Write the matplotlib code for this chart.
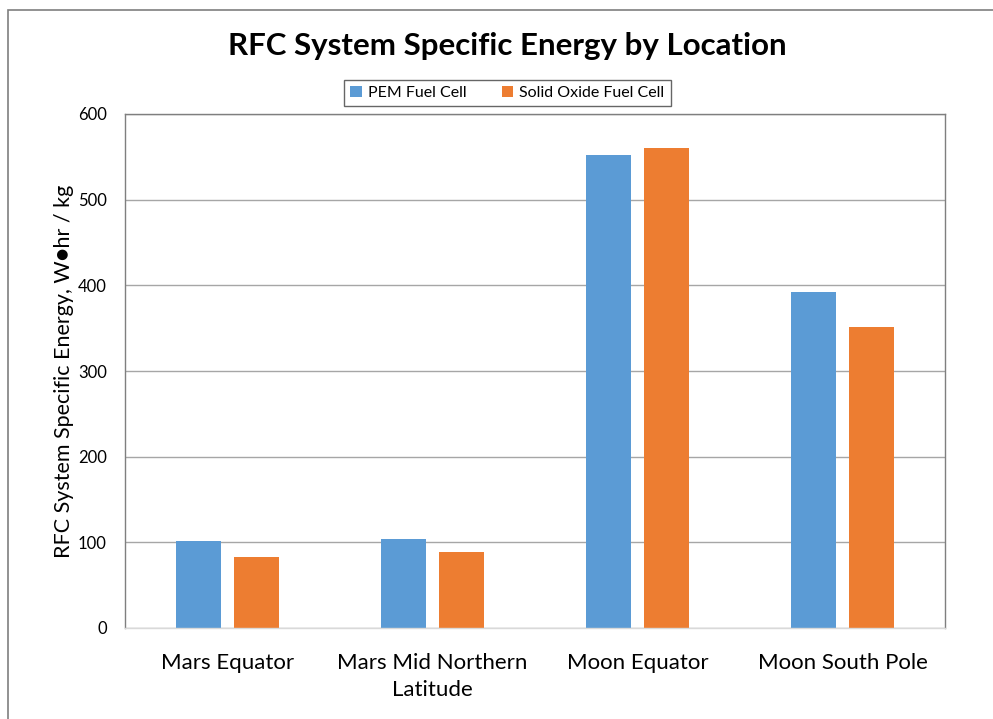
import matplotlib
matplotlib.use("Agg")
import matplotlib.pyplot as plt
import numpy as np
from matplotlib.patches import Rectangle

categories = ["Mars Equator", "Mars Mid Northern\nLatitude", "Moon Equator", "Moon South Pole"]
pem = [102, 104, 552, 392]
sofc = [83, 89, 560, 351]
series_names = ["PEM Fuel Cell", "Solid Oxide Fuel Cell"]
yticks = [0, 100, 200, 300, 400, 500, 600]

plt.rcParams['font.family'] = ['Lato', 'DejaVu Sans']

fig = plt.figure(figsize=(9.93, 7.19), dpi=100)
ax = fig.add_axes([125/993, 1-628/719, 820/993, 514/719])

x = np.arange(len(categories))
w = 0.224
off = 0.1415
ax.bar(x - off, pem, w, color="#5B9BD5", label=series_names[0], zorder=3)
ax.bar(x + off, sofc, w, color="#ED7D31", label=series_names[1], zorder=3)

ax.set_xlim(-0.5, len(categories) - 0.5)
ax.set_ylim(0, 600)
ax.set_yticks(yticks)
ax.set_yticklabels([str(t) for t in yticks], fontsize=12)
ax.set_xticks(x)
ax.set_xticklabels(categories, fontsize=16, linespacing=1.45)
ax.tick_params(axis='x', length=0, pad=18)
ax.tick_params(axis='y', length=0, pad=13)
ax.yaxis.grid(True, color="#a6a6a6", linewidth=1, zorder=0)
ax.set_axisbelow(True)
for s in ['top', 'left', 'right']:
    ax.spines[s].set_color("#7f7f7f")
    ax.spines[s].set_linewidth(1)
ax.spines['bottom'].set_color("#d9d9d9")
ax.spines['bottom'].set_linewidth(1)
ax.spines['bottom'].set_zorder(4)

ax.set_ylabel("RFC System Specific Energy, W\u25cfhr / kg", fontsize=15.5, labelpad=3)

fig.text(507/993, 1-46/719, "RFC System Specific Energy by Location", ha='center', va='center',
         fontsize=22.5, fontweight='bold')

leg = ax.legend(loc='center', bbox_to_anchor=((507.5-125)/820, (628-93)/514), ncol=2, fontsize=11.5,
                frameon=True, fancybox=False, edgecolor="#404040", handlelength=0.7, handleheight=0.7,
                columnspacing=2.2, handletextpad=0.4, borderpad=0.4, borderaxespad=0)
leg.get_frame().set_linewidth(1)

fig.patches.append(Rectangle((8/993, -0.1), 1.2, 1 - 10/719 + 0.1, transform=fig.transFigure,
                             fill=False, edgecolor="#7f7f7f", linewidth=1.2))

fig.savefig("out.png", dpi=100)
